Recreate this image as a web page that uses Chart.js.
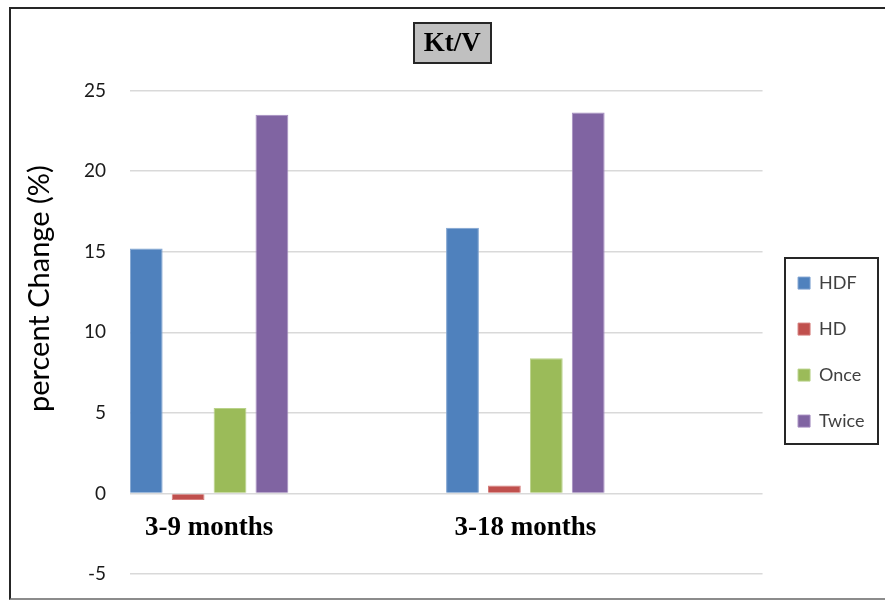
<!DOCTYPE html>
<html>
<head>
<meta charset="utf-8">
<script src="https://cdn.jsdelivr.net/npm/chart.js@4.4.1/dist/chart.umd.min.js"></script>
<style>
  html, body { margin: 0; padding: 0; background: #fff; }
  #wrap { position: relative; width: 885px; height: 600px; overflow: hidden; }
  canvas { position: absolute; left: 0; top: 0; }
  #frame {
    position: absolute; left: 9px; top: 7px; width: 880px; height: 589px;
    border-top: 2px solid #262626; border-left: 2px solid #262626; border-bottom: 2px solid #8c8c8c;
    pointer-events: none;
  }
</style>
</head>
<body>
<div id="wrap">
  <canvas id="c" width="885" height="600"></canvas>
  <div id="frame"></div>
</div>
<script>
// Kt/V percent change per period and treatment group
const categories = ['3-9 months', '3-18 months'];
const seriesNames = ['HDF', 'HD', 'Once', 'Twice'];
const hdfValues = [15.2, 16.5];
const hdValues = [-0.4, 0.5];
const onceValues = [5.3, 8.4];
const twiceValues = [23.5, 23.65];
const yTickValues = [-5, 0, 5, 10, 15, 20, 25];

const fills = ['#4F81BD', '#C0504D', '#9BBB59', '#8064A2'];
const edges = ['#7EA2D0', '#D57F7D', '#B9D28A', '#A48CC0'];

const seriesValues = [hdfValues, hdValues, onceValues, twiceValues];
const datasets = seriesNames.map((name, s) => ({
  label: name,
  data: seriesValues[s].map((v, i) => ({ x: i, y: v })),
  backgroundColor: fills[s],
  borderColor: edges[s],
  borderWidth: 1,
  categoryPercentage: 0.53,
  barPercentage: 0.783
}));

// Boxed title, legend frame and rotated axis caption
const decorations = {
  id: 'decorations',
  afterLayout(chart) {
    const ca = chart.chartArea;
    const t = chart.titleBlock;
    t.left += 6; t.right += 6;
    const lg = chart.legend;
    const pad = lg.options.labels.padding;
    const dx = ca.right + 35.5 - (lg.left + pad);
    lg.left += dx; lg.right += dx;
    const dy = ca.top + 261.4 - (lg.top + lg.bottom) / 2;
    lg.top += dy; lg.bottom += dy;
  },
  beforeDraw(chart) {
    const ctx = chart.ctx;
    const t = chart.titleBlock;
    const font = Chart.helpers.toFont(t.options.font);
    ctx.save();
    ctx.font = font.string;
    const w = ctx.measureText(t.options.text).width;
    const cx = (t.left + t.right) / 2;
    const cy = t.top + t.options.padding.top + font.lineHeight / 2;
    const bx = Math.round(cx - w / 2 - 10), by = Math.round(cy - 21);
    const bw = Math.round(w + 20), bh = 40;
    ctx.fillStyle = '#c0c0c0';
    ctx.fillRect(bx, by, bw, bh);
    ctx.strokeStyle = '#262626';
    ctx.lineWidth = 2;
    ctx.strokeRect(bx, by, bw, bh);
    ctx.restore();
  },
  afterDraw(chart) {
    const ctx = chart.ctx;
    const hb = chart.legend.legendHitBoxes;
    if (hb && hb.length) {
      const first = hb[0], last = hb[hb.length - 1];
      const left = first.left - 13;
      const right = Math.max(...hb.map(h => h.left + h.width)) + 14;
      const top = first.top - 16.5;
      const bottom = last.top + 31.3;
      ctx.save();
      ctx.strokeStyle = '#262626';
      ctx.lineWidth = 2;
      ctx.strokeRect(Math.round(left), Math.round(top), Math.round(right - left), Math.round(bottom - top));
      ctx.restore();
    }
    const ca = chart.chartArea;
    ctx.save();
    ctx.translate(ca.left - 90, ca.top + 198);
    ctx.rotate(-Math.PI / 2);
    ctx.font = '29px Lato';
    ctx.fillStyle = '#000';
    ctx.textAlign = 'center';
    ctx.textBaseline = 'middle';
    ctx.fillText('percent Change (%)', 0, 0);
    ctx.restore();
  }
};

new Chart(document.getElementById('c'), {
  type: 'bar',
  data: { datasets },
  plugins: [decorations],
  options: {
    responsive: false,
    animation: false,
    devicePixelRatio: 1,
    layout: { padding: { left: 10, top: 10, right: 18, bottom: 26 } },
    plugins: {
      tooltip: { enabled: false },
      title: {
        display: true,
        text: 'Kt/V',
        fullSize: false,
        color: '#000',
        font: { family: 'Liberation Serif', size: 27, weight: 'bold', lineHeight: 1.2 },
        padding: { top: 18, bottom: 30.3 }
      },
      legend: {
        display: true,
        position: 'right',
        fullSize: false,
        labels: {
          boxWidth: 12,
          boxHeight: 12,
          padding: 28,
          color: '#404040',
          font: { family: 'Lato', size: 18 }
        }
      }
    },
    scales: {
      x: {
        type: 'linear',
        position: { y: 0 },
        min: -0.25,
        max: 1.75,
        offset: false,
        grid: { display: false, drawTicks: false },
        border: { display: false },
        afterBuildTicks: (s) => { s.ticks = categories.map((_, i) => ({ value: i })); },
        ticks: {
          autoSkip: false,
          maxRotation: 0,
          padding: 18,
          color: '#000',
          font: { family: 'Liberation Serif', size: 27, weight: 'bold' },
          callback: (v) => categories[v] !== undefined ? categories[v] : ''
        }
      },
      y: {
        min: -5,
        max: 25,
        afterBuildTicks: (s) => { s.ticks = yTickValues.map(v => ({ value: v })); },
        afterFit: (s) => { s.width = 120; },
        grid: { color: '#d9d9d9', lineWidth: 1.5, drawTicks: true, tickLength: 24, tickColor: 'rgba(0,0,0,0)' },
        border: { display: false },
        ticks: {
          padding: 0,
          color: '#1a1a1a',
          font: { family: 'Lato', size: 19 }
        }
      }
    }
  }
});
</script>
</body>
</html>
